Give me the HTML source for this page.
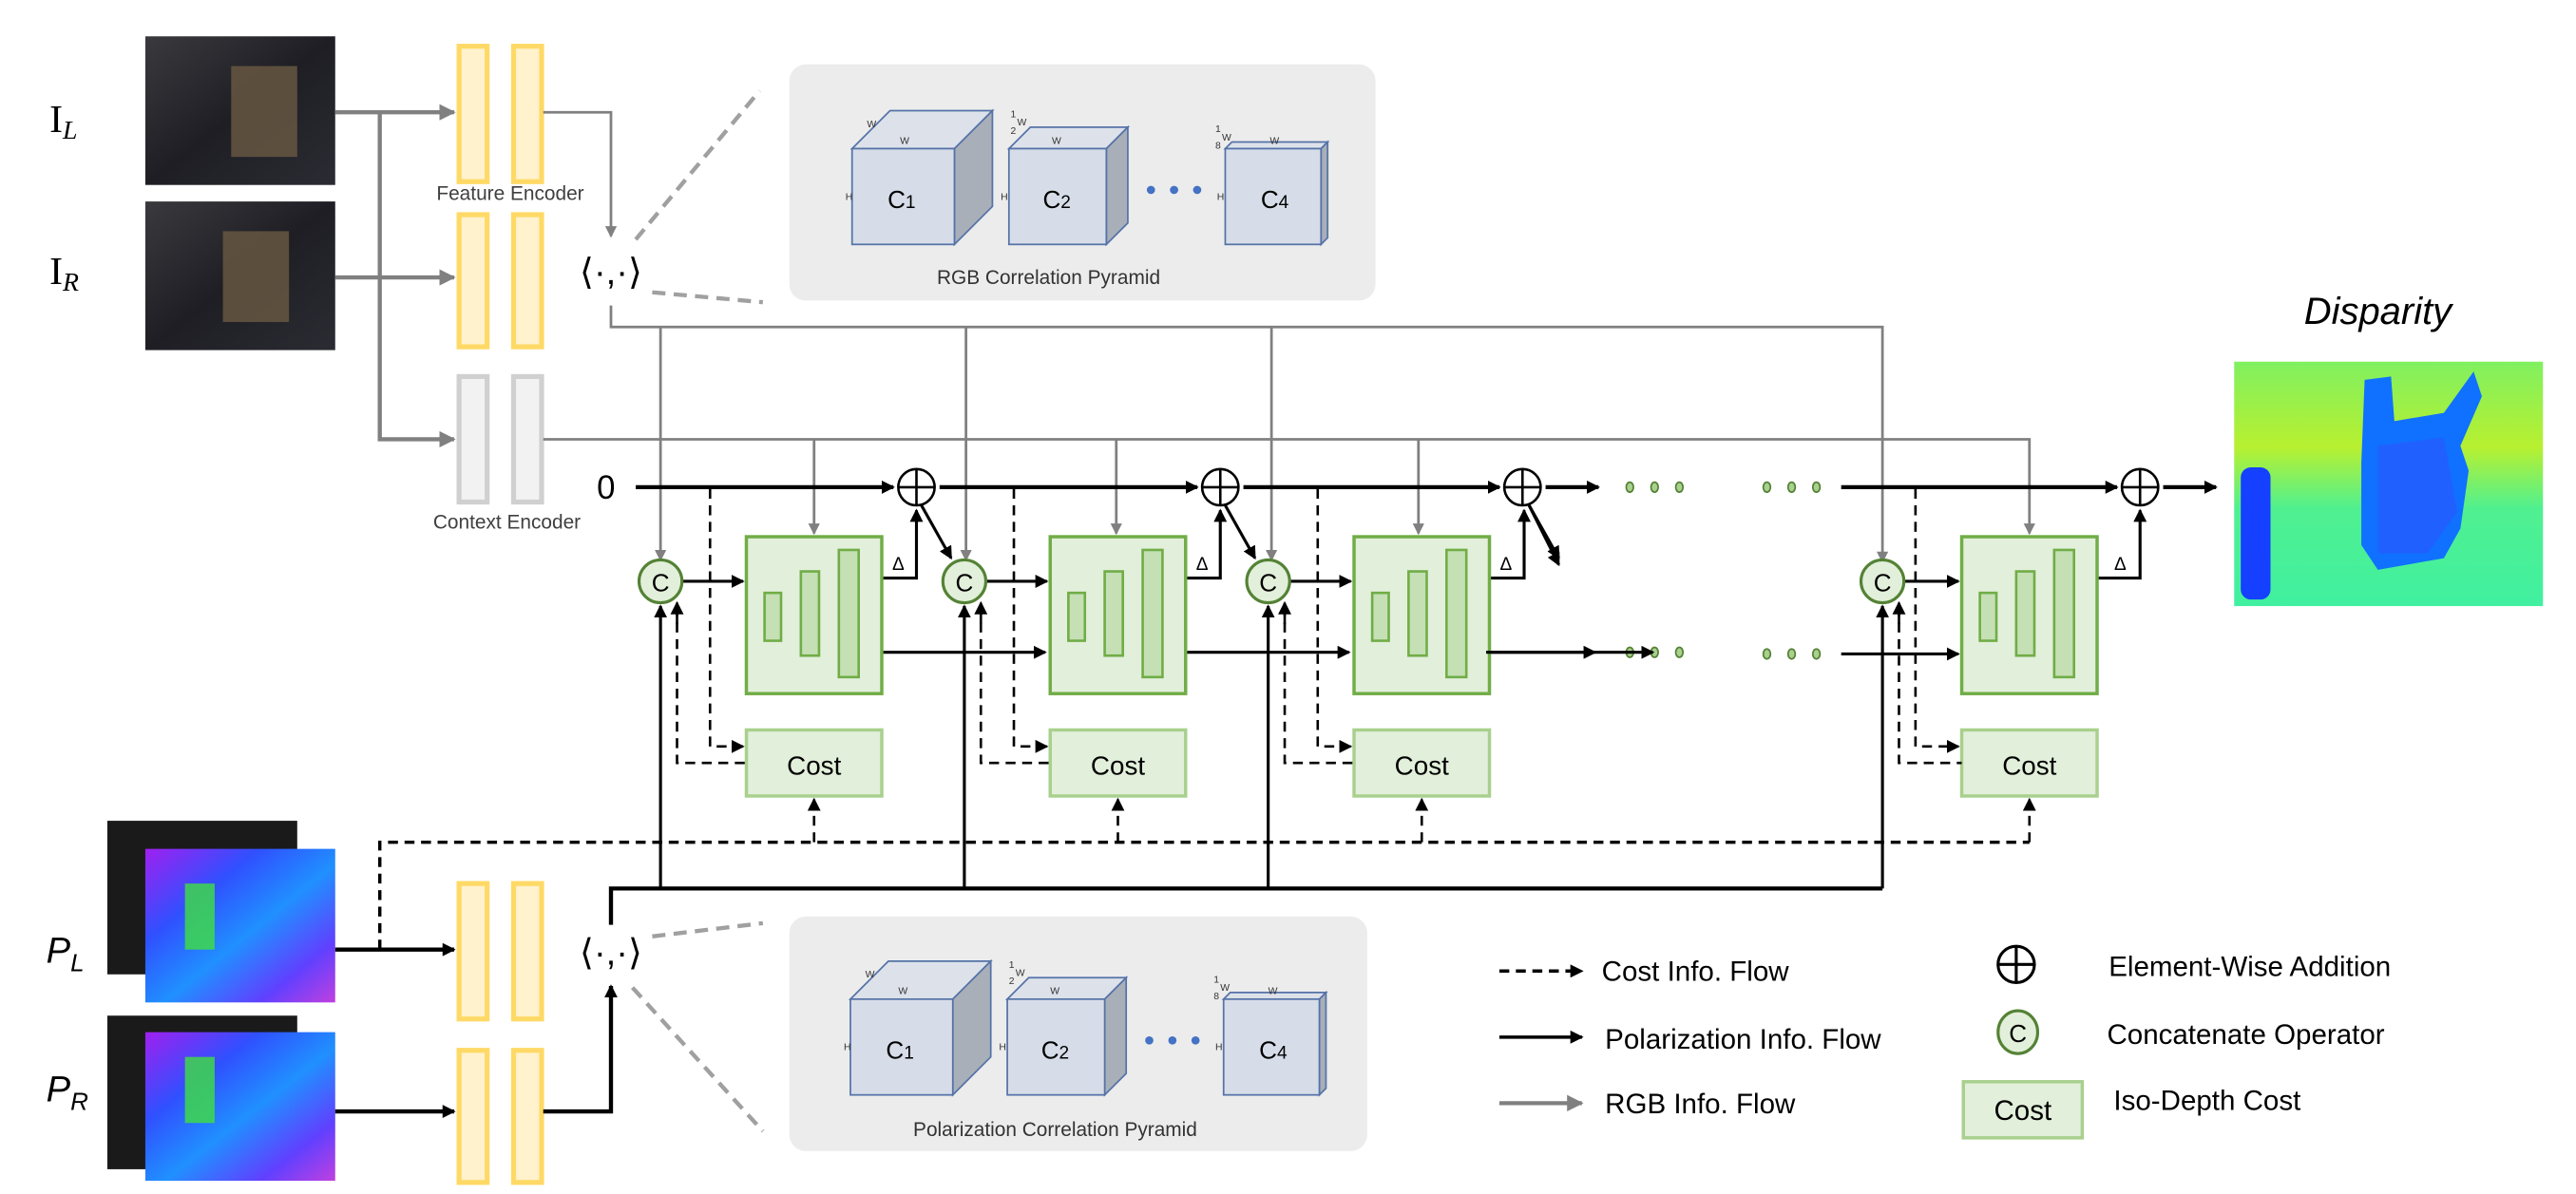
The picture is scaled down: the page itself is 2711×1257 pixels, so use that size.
<!DOCTYPE html>
<html><head><meta charset="utf-8"><style>
html,body{margin:0;padding:0;background:#fff;}
svg{display:block;}
text{font-family:"Liberation Sans Narrow","Liberation Sans",sans-serif;}
.s{font-family:"Liberation Serif",serif;}
</style></head><body>
<svg width="2711" height="1257" viewBox="0 0 1560 723" preserveAspectRatio="none" xmlns="http://www.w3.org/2000/svg">
<defs>
<marker id="ab" markerWidth="8" markerHeight="8" refX="7" refY="4" orient="auto" markerUnits="userSpaceOnUse"><path d="M0,0 L8,4 L0,8 z" fill="#000"/></marker>
<marker id="ag" markerWidth="10" markerHeight="10" refX="9" refY="5" orient="auto" markerUnits="userSpaceOnUse"><path d="M0,0 L10,5 L0,10 z" fill="#808080"/></marker>
<marker id="as" markerWidth="7" markerHeight="7" refX="6" refY="3.5" orient="auto" markerUnits="userSpaceOnUse"><path d="M0,0 L7,3.5 L0,7 z" fill="#808080"/></marker>
<linearGradient id="dk" x1="0" y1="0" x2="1" y2="1"><stop offset="0" stop-color="#3a3a3e"/><stop offset="0.5" stop-color="#1e1e24"/><stop offset="1" stop-color="#2b2b33"/></linearGradient>
<linearGradient id="pol" x1="0" y1="0" x2="1" y2="1"><stop offset="0" stop-color="#a020f0"/><stop offset="0.3" stop-color="#3050ff"/><stop offset="0.55" stop-color="#2090ff"/><stop offset="0.8" stop-color="#6040ff"/><stop offset="1" stop-color="#c040e0"/></linearGradient>
<linearGradient id="disp" x1="0" y1="0" x2="0" y2="1"><stop offset="0" stop-color="#80f060"/><stop offset="0.35" stop-color="#b8f030"/><stop offset="0.6" stop-color="#50f090"/><stop offset="1" stop-color="#40f0a0"/></linearGradient>
</defs>

<!-- labels -->
<text x="30" y="80" class="s" font-size="24" font-family="Liberation Serif">I<tspan font-size="16" font-style="italic" dy="4">L</tspan></text>
<text x="30" y="172" class="s" font-size="24" font-family="Liberation Serif">I<tspan font-size="16" font-style="italic" dy="4">R</tspan></text>
<text x="28" y="583" font-size="22" font-style="italic" font-family="Liberation Serif">P<tspan font-size="15" dy="5">L</tspan></text>
<text x="28" y="667" font-size="22" font-style="italic" font-family="Liberation Serif">P<tspan font-size="15" dy="5">R</tspan></text>

<!-- RGB images -->
<rect x="88" y="22" width="115" height="90" fill="url(#dk)"/>
<rect x="140" y="40" width="40" height="55" fill="#6b5a44" opacity="0.8"/>
<rect x="88" y="122" width="115" height="90" fill="url(#dk)"/>
<rect x="135" y="140" width="40" height="55" fill="#6b5a44" opacity="0.8"/>
<!-- polar images -->
<rect x="65" y="497" width="115" height="93" fill="#1a1a1a"/>
<rect x="88" y="514" width="115" height="93" fill="url(#pol)"/>
<rect x="112" y="535" width="18" height="40" fill="#40e040" opacity="0.8"/>
<rect x="65" y="615" width="115" height="93" fill="#1a1a1a"/>
<rect x="88" y="625" width="115" height="90" fill="url(#pol)"/>
<rect x="112" y="640" width="18" height="40" fill="#40e040" opacity="0.8"/>

<!-- encoders -->
<g fill="#fff2cc" stroke="#ffd966" stroke-width="3">
<rect x="278" y="28" width="17" height="82"/><rect x="311" y="28" width="17" height="82"/>
<rect x="278" y="130" width="17" height="80"/><rect x="311" y="130" width="17" height="80"/>
<rect x="278" y="535" width="17" height="82"/><rect x="311" y="535" width="17" height="82"/>
<rect x="278" y="636" width="17" height="80"/><rect x="311" y="636" width="17" height="80"/>
</g>
<g fill="#f2f2f2" stroke="#d0d0d0" stroke-width="3">
<rect x="278" y="228" width="17" height="76"/><rect x="311" y="228" width="17" height="76"/>
</g>
<text x="309" y="121" font-size="12" fill="#404040" text-anchor="middle">Feature Encoder</text>
<text x="307" y="320" font-size="12" fill="#404040" text-anchor="middle">Context Encoder</text>

<!-- gray RGB flow -->
<g stroke="#808080" stroke-width="2.5" fill="none">
<path d="M203,68 H275" marker-end="url(#ag)"/>
<path d="M230,68 V266 H275" marker-end="url(#ag)"/>
<path d="M203,168 H275" marker-end="url(#ag)"/>
</g>
<g stroke="#808080" stroke-width="1.6" fill="none">
<path d="M329,68 H370 V143" marker-end="url(#as)"/>
<path d="M370,185 V198 H1140 V340" marker-end="url(#as)"/>
<path d="M400,198 V339" marker-end="url(#as)"/>
<path d="M585,198 V339" marker-end="url(#as)"/>
<path d="M770,198 V339" marker-end="url(#as)"/>
<path d="M329,266 H1229 V323" marker-end="url(#as)"/>
<path d="M493,266 V323" marker-end="url(#as)"/>
<path d="M676,266 V323" marker-end="url(#as)"/>
<path d="M859,266 V323" marker-end="url(#as)"/>
</g>
<text x="370" y="172" font-size="22" text-anchor="middle" font-family="Liberation Serif">⟨·,·⟩</text>
<text x="370" y="584" font-size="22" text-anchor="middle" font-family="Liberation Serif">⟨·,·⟩</text>
<g stroke="#a0a0a0" stroke-width="2.5" stroke-dasharray="8,5" fill="none">
<path d="M385,145 L460,55"/><path d="M395,177 L462,183"/>
<path d="M395,567 L462,559"/><path d="M383,598 L462,685"/>
</g>

<!-- panels -->
<rect x="478" y="39" width="355" height="143" rx="10" fill="#ececec"/>
<rect x="478" y="555" width="350" height="142" rx="10" fill="#ececec"/>
<g id="cubes">
<g stroke="#5573a8" stroke-width="1">
<polygon points="516,90 539,67 601,67 578,90" fill="#dde2ea"/>
<polygon points="578,90 601,67 601,125 578,148" fill="#a9afb8"/>
<rect x="516" y="90" width="62" height="58" fill="#d6dde8"/>
<polygon points="611,90 624,77 683,77 670,90" fill="#dde2ea"/>
<polygon points="670,90 683,77 683,135 670,148" fill="#a9afb8"/>
<rect x="611" y="90" width="59" height="58" fill="#d6dde8"/>
<polygon points="742,90 746,86 804,86 800,90" fill="#dde2ea"/>
<polygon points="800,90 804,86 804,144 800,148" fill="#a9afb8"/>
<rect x="742" y="90" width="58" height="58" fill="#d6dde8"/>
</g>
<g fill="#4472c4"><circle cx="697" cy="115" r="2.5"/><circle cx="711" cy="115" r="2.5"/><circle cx="725" cy="115" r="2.5"/></g>
<g font-size="15" text-anchor="middle"><text x="546" y="126">C<tspan font-size="11">1</tspan></text><text x="640" y="126">C<tspan font-size="11">2</tspan></text><text x="772" y="126">C<tspan font-size="11">4</tspan></text></g>
<g font-size="6" font-family="Liberation Serif" fill="#333"><text x="525" y="77">W</text><text x="545" y="87">W</text><text x="512" y="121">H</text><text x="612" y="71">1</text><text x="612" y="81">2</text><text x="616" y="76">W</text><text x="637" y="87">W</text><text x="606" y="121">H</text><text x="736" y="80">1</text><text x="736" y="90">8</text><text x="740" y="85">W</text><text x="769" y="87">W</text><text x="737" y="121">H</text></g>
</g>
<use href="#cubes" transform="translate(-1,515)"/>
<text x="635" y="172" font-size="12" fill="#333" text-anchor="middle">RGB Correlation Pyramid</text>
<text x="639" y="688" font-size="12" fill="#333" text-anchor="middle">Polarization Correlation Pyramid</text>

<!-- main black line -->
<text x="367" y="302" font-size="20" text-anchor="middle" font-family="Liberation Serif">0</text>
<g stroke="#000" stroke-width="2.5" fill="none">
<path d="M385,295 H541" marker-end="url(#ab)"/>
<path d="M569,295 H725" marker-end="url(#ab)"/>
<path d="M753,295 H908" marker-end="url(#ab)"/>
<path d="M936,295 H968" marker-end="url(#ab)"/>
<path d="M1115,295 H1282" marker-end="url(#ab)"/>
<path d="M1310,295 H1342" marker-end="url(#ab)"/>
</g>
<g fill="#fff" stroke="#000" stroke-width="1.5">
<circle cx="555" cy="295" r="11"/><circle cx="739" cy="295" r="11"/><circle cx="922" cy="295" r="11"/><circle cx="1296" cy="295" r="11"/>
</g>
<g stroke="#000" stroke-width="1.5"><path d="M544,295H566M555,284V306M728,295H750M739,284V306M911,295H933M922,284V306M1285,295H1307M1296,284V306"/></g>
<g fill="#a9d08e" stroke="#548235" stroke-width="1">
<ellipse cx="987" cy="295" rx="2.2" ry="3"/><ellipse cx="1002" cy="295" rx="2.2" ry="3"/><ellipse cx="1017" cy="295" rx="2.2" ry="3"/>
<ellipse cx="1070" cy="295" rx="2.2" ry="3"/><ellipse cx="1085" cy="295" rx="2.2" ry="3"/><ellipse cx="1100" cy="295" rx="2.2" ry="3"/>
<ellipse cx="987" cy="395" rx="2.2" ry="3"/><ellipse cx="1002" cy="395" rx="2.2" ry="3"/><ellipse cx="1017" cy="395" rx="2.2" ry="3"/>
<ellipse cx="1070" cy="396" rx="2.2" ry="3"/><ellipse cx="1085" cy="396" rx="2.2" ry="3"/><ellipse cx="1100" cy="396" rx="2.2" ry="3"/>
</g>

<!-- stages -->
<g id="st">
<g stroke="#000" stroke-width="1.8" fill="none">
<path d="M534,350 H555 V309" marker-end="url(#ab)"/>
<path d="M413,352 H450" marker-end="url(#ab)"/>
<path d="M534,395 H633" marker-end="url(#ab)"/>
<path d="M558,306 L576,338" marker-end="url(#ab)"/>
</g>
<text x="544" y="345" font-size="11" text-anchor="middle">Δ</text>
<rect x="452" y="325" width="82" height="95" fill="#e2efda" stroke="#70ad47" stroke-width="2"/>
<g fill="#c5e0b4" stroke="#70ad47" stroke-width="1.5"><rect x="463" y="359" width="10" height="29"/><rect x="485" y="346" width="11" height="51"/><rect x="508" y="333" width="12" height="77"/></g>
<rect x="452" y="442" width="82" height="40" fill="#e2efda" stroke="#a9d08e" stroke-width="2"/>
<text x="493" y="469" font-size="16" text-anchor="middle">Cost</text>
<g stroke="#000" stroke-width="1.5" fill="none" stroke-dasharray="6,4">
<path d="M430,296 V452 H450" marker-end="url(#ab)"/>
<path d="M410,367 V462 H452"/>
<path d="M493,510 V484" marker-end="url(#ab)"/>
</g>
<path d="M410,378 V365" stroke="#000" stroke-width="1.5" marker-end="url(#ab)"/>
<path d="M400,538 V367" stroke="#000" stroke-width="1.8" fill="none" marker-end="url(#ab)"/>
<circle cx="400" cy="352" r="13" fill="#e2efda" stroke="#548235" stroke-width="1.8"/>
<text x="400" y="358" font-size="15" text-anchor="middle">C</text>
</g>
<use href="#st" transform="translate(184,0)"/>
<use href="#st" transform="translate(368,0)"/>
<!-- last stage -->
<g transform="translate(740,0)">
<g stroke="#000" stroke-width="1.8" fill="none">
<path d="M530,350 H556 V309" marker-end="url(#ab)"/>
<path d="M413,352 H446" marker-end="url(#ab)"/>
</g>
<text x="544" y="345" font-size="11" text-anchor="middle">Δ</text>
<rect x="448" y="325" width="82" height="95" fill="#e2efda" stroke="#70ad47" stroke-width="2"/>
<g fill="#c5e0b4" stroke="#70ad47" stroke-width="1.5"><rect x="459" y="359" width="10" height="29"/><rect x="481" y="346" width="11" height="51"/><rect x="504" y="333" width="12" height="77"/></g>
<rect x="448" y="442" width="82" height="40" fill="#e2efda" stroke="#a9d08e" stroke-width="2"/>
<text x="489" y="469" font-size="16" text-anchor="middle">Cost</text>
<g stroke="#000" stroke-width="1.5" fill="none" stroke-dasharray="6,4">
<path d="M420,296 V452 H446" marker-end="url(#ab)"/>
<path d="M410,367 V462 H448"/>
<path d="M489,510 V484" marker-end="url(#ab)"/>
</g>
<path d="M410,378 V365" stroke="#000" stroke-width="1.5" marker-end="url(#ab)"/>
<path d="M400,538 V367" stroke="#000" stroke-width="1.8" fill="none" marker-end="url(#ab)"/>
<circle cx="400" cy="352" r="13" fill="#e2efda" stroke="#548235" stroke-width="1.8"/>
<text x="400" y="358" font-size="15" text-anchor="middle">C</text>
</g>
<g stroke="#000" stroke-width="1.8" fill="none">
<path d="M900,395 H966" marker-end="url(#ab)"/>
<path d="M1115,396 H1186" marker-end="url(#ab)"/>
<path d="M926,306 L944,342" marker-end="url(#ab)"/>
</g>

<!-- bottom lines -->
<path d="M230,575 V510 H1229" stroke="#000" stroke-width="2" stroke-dasharray="6,4" fill="none"/>
<path d="M370,560 V538 H1140" stroke="#000" stroke-width="2.5" fill="none"/>
<g stroke="#000" stroke-width="2.5" fill="none">
<path d="M203,575 H275" marker-end="url(#ab)"/>
<path d="M203,673 H275" marker-end="url(#ab)"/>
<path d="M329,673 H370 V597" marker-end="url(#ab)"/>
</g>

<!-- disparity -->
<text x="1440" y="196" font-size="23" font-style="italic" text-anchor="middle" font-family="DejaVu Serif">Disparity</text>
<rect x="1353" y="219" width="187" height="148" fill="url(#disp)"/>
<rect x="1357" y="283" width="18" height="80" rx="6" fill="#1540ff"/>
<path d="M1432,230 L1448,228 L1450,255 L1480,250 L1498,225 L1503,240 L1490,270 L1495,285 L1490,320 L1480,338 L1440,345 L1430,330 L1430,280 Z" fill="#1070ff"/>
<path d="M1440,270 L1480,265 L1488,310 L1470,335 L1440,335 Z" fill="#2060ff"/>

<!-- legend -->
<g stroke="#000" stroke-width="2" fill="none">
<path d="M908,588 H958" stroke-dasharray="6,4" marker-end="url(#ab)"/>
<path d="M908,628 H958" marker-end="url(#ab)"/>
</g>
<path d="M908,668 H958" stroke="#808080" stroke-width="2.5" marker-end="url(#ag)"/>
<g font-size="17">
<text x="970" y="594">Cost Info. Flow</text>
<text x="972" y="635">Polarization Info. Flow</text>
<text x="972" y="674">RGB Info. Flow</text>
<text x="1277" y="591">Element-Wise Addition</text>
<text x="1276" y="632">Concatenate Operator</text>
<text x="1280" y="672">Iso-Depth Cost</text>
</g>
<circle cx="1221" cy="584" r="11" fill="#fff" stroke="#000" stroke-width="1.8"/>
<path d="M1210,584H1232M1221,573V595" stroke="#000" stroke-width="1.8"/>
<ellipse cx="1222" cy="625" rx="12" ry="13" fill="#e2efda" stroke="#548235" stroke-width="1.8"/>
<text x="1222" y="631" font-size="15" text-anchor="middle">C</text>
<rect x="1189" y="655" width="72" height="34" fill="#e2efda" stroke="#a9d08e" stroke-width="2"/>
<text x="1225" y="678" font-size="17" text-anchor="middle">Cost</text>
</svg>
</body></html>
